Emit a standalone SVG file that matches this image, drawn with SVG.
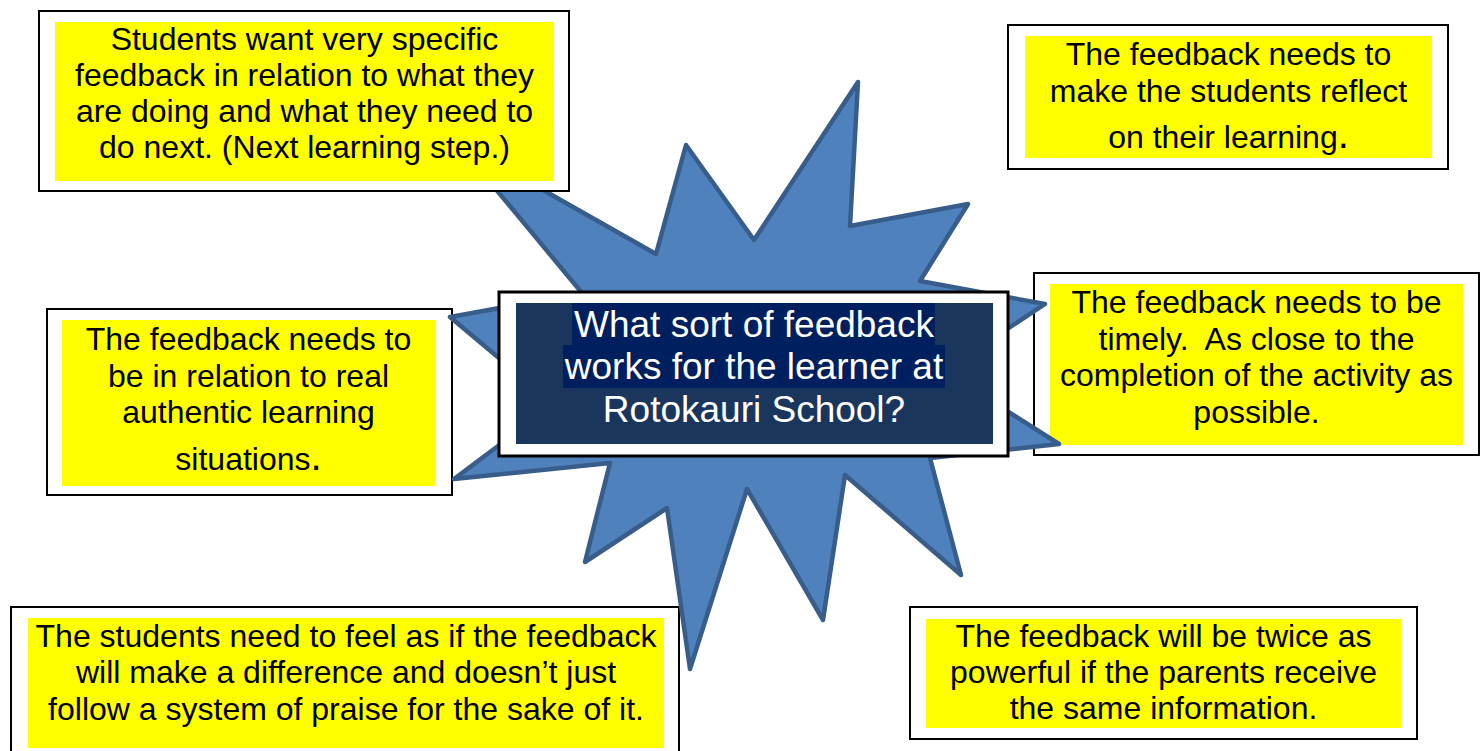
<svg xmlns="http://www.w3.org/2000/svg" width="1483" height="751" viewBox="0 0 1483 751">
<style>
.frame{fill:#ffffff;stroke:#000000;stroke-width:2}
.hl{fill:#ffff00}
.t{font-family:"Liberation Sans",Arial,sans-serif;font-size:32px;fill:#000000;text-anchor:middle}
.ct{font-family:"Liberation Sans",Arial,sans-serif;font-size:37px;fill:#ffffff;text-anchor:middle}
.big{font-size:40px}
</style>
<rect width="1483" height="751" fill="#ffffff"/>
<g id="box-authentic">
<rect class="frame" x="47" y="309" width="405" height="186"/>
<rect class="hl" x="62" y="320" width="373" height="166"/>
<text class="t" x="248.5" y="350">The feedback needs to</text>
<text class="t" x="248.5" y="387">be in relation to real</text>
<text class="t" x="248.5" y="423">authentic learning</text>
<text class="t" x="248.5" y="470">situations<tspan class="big">.</tspan></text>
</g>
<g id="box-difference">
<rect class="frame" x="11" y="607" width="668" height="160"/>
<rect class="hl" x="28" y="618" width="636" height="130"/>
<text class="t" x="346" y="647">The students need to feel as if the feedback</text>
<text class="t" x="346" y="683">will make a difference and doesn’t just</text>
<text class="t" x="346" y="720">follow a system of praise for the sake of it.</text>
</g>
<g id="box-parents">
<rect class="frame" x="910" y="607" width="507" height="132"/>
<rect class="hl" x="926" y="619" width="475" height="109"/>
<text class="t" x="1163.5" y="647">The feedback will be twice as</text>
<text class="t" x="1163.5" y="683">powerful if the parents receive</text>
<text class="t" x="1163.5" y="719">the same information.</text>
</g>
<g id="box-timely">
<rect class="frame" x="1034" y="273" width="445" height="182"/>
<rect class="hl" x="1050" y="284" width="413" height="161"/>
<text class="t" x="1256.5" y="313">The feedback needs to be</text>
<text class="t" x="1256.5" y="349.5" style="white-space:pre">timely.  As close to the</text>
<text class="t" x="1256.5" y="386">completion of the activity as</text>
<text class="t" x="1256.5" y="423">possible.</text>
</g>
<g id="box-reflect">
<rect class="frame" x="1008" y="25" width="440" height="144"/>
<rect class="hl" x="1025" y="36" width="407" height="122"/>
<text class="t" x="1228.5" y="65">The feedback needs to</text>
<text class="t" x="1228.5" y="102">make the students reflect</text>
<text class="t" x="1228.5" y="148">on their learning<tspan class="big">.</tspan></text>
</g>
<g id="burst">
<polygon points="455,140 656,254 686,145 754,240 858,82 850,226 968,204 920,281 1045,304 944,371 1059,444 930,458 961,575 845,475 823,620 747,489 690,669 667,508 585,562 610,463 454,479 554,404 450,317 582,293" fill="#4f81bd" stroke="#385d8a" stroke-width="4.5" stroke-linejoin="round"/>
</g>
<g id="box-specific">
<rect class="frame" x="39" y="11" width="530" height="180"/>
<rect class="hl" x="55" y="22" width="499" height="159"/>
<text class="t" x="304.5" y="49.5">Students want very specific</text>
<text class="t" x="304.5" y="85.5">feedback in relation to what they</text>
<text class="t" x="304.5" y="121.5">are doing and what they need to</text>
<text class="t" x="304.5" y="157.5">do next. (Next learning step.)</text>
</g>
<g id="central-question">
<rect x="499" y="292" width="509" height="164" fill="#ffffff" stroke="#000000" stroke-width="3"/>
<rect x="516" y="303" width="477" height="141" fill="#1a365d"/>
<rect x="572" y="303" width="363" height="42" fill="#001f5f"/>
<rect x="563" y="345" width="382" height="43" fill="#001f5f"/>
<text class="ct" x="754" y="337">What sort of feedback</text>
<text class="ct" x="754" y="379">works for the learner at</text>
<text class="ct" x="754" y="422">Rotokauri School?</text>
</g>
<g id="connectors"/>
</svg>
